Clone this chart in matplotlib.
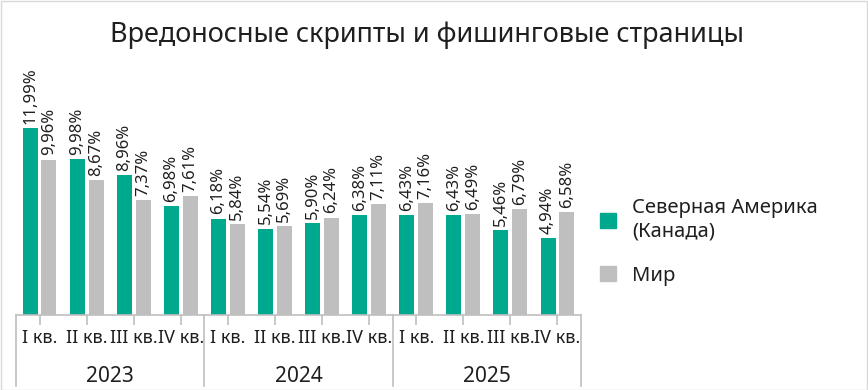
import matplotlib.pyplot as plt
from matplotlib.patches import Rectangle, Patch
import numpy as np

plt.rcParams['font.family'] = ['Noto Sans', 'DejaVu Sans']

# Data
quarters = ['I кв.', 'II кв.', 'III кв.', 'IV кв.'] * 3
years = ['2023', '2024', '2025']
canada = [11.99, 9.98, 8.96, 6.98, 6.18, 5.54, 5.90, 6.38, 6.43, 6.43, 5.46, 4.94]
world = [9.96, 8.67, 7.37, 7.61, 5.84, 5.69, 6.24, 7.11, 7.16, 6.49, 6.79, 6.58]
series_names = ['Северная Америка\n(Канада)', 'Мир']

green = '#00A88E'
grey = '#BFBFBF'
text_col = '#1F1F1F'
axis_col = '#BFBFBF'

W, H = 868, 390
fig = plt.figure(figsize=(W / 100, H / 100), dpi=100)
fig.patches.append(Rectangle((0.001, 0.001), 0.998, 0.997, transform=fig.transFigure,
                             fill=False, edgecolor='#D9D9D9', linewidth=1))

ax = fig.add_axes([16 / W, 1 - 315 / H, 565 / W, 240 / H])
x = np.arange(len(canada))
bw = 0.32
off = 0.2
b1 = ax.bar(x - off, canada, bw, color=green, label=series_names[0])
b2 = ax.bar(x + off, world, bw, color=grey, label=series_names[1])

for bars, vals in ((b1, canada), (b2, world)):
    for rect, v in zip(bars, vals):
        ax.annotate(f'{v:.2f}%'.replace('.', ','),
                    xy=(rect.get_x() + rect.get_width() / 2, rect.get_height()),
                    xytext=(0, 3), textcoords='offset points',
                    rotation=90, ha='center', va='bottom',
                    fontsize=12, color=text_col)

ax.set_xlim(-0.5, len(canada) - 0.5)
ax.set_ylim(0, 240 / 15.6)
ax.set_yticks([])
for s in ('top', 'right', 'left'):
    ax.spines[s].set_visible(False)
ax.spines['bottom'].set_color(axis_col)
ax.spines['bottom'].set_linewidth(1.2)

ax.set_xticks(x)
ax.set_xticklabels(quarters, fontsize=13, color=text_col)
ax.tick_params(axis='x', length=7, width=1.2, color=axis_col, pad=3)

# year separators and labels
trans = ax.get_xaxis_transform()
for b in [-0.5, 3.5, 7.5, 11.5]:
    ax.plot([b, b], [0, -71 / 240], transform=trans, color=axis_col,
            linewidth=1.2, clip_on=False)
for i, yr in enumerate(years):
    ax.text(4 * i + 1.5, -62 / 240, yr, transform=trans, ha='center', va='center',
            fontsize=15, color=text_col)

fig.text(0.492, 1 - 35 / H, 'Вредоносные скрипты и фишинговые страницы',
         ha='center', va='center', fontsize=19.5, color=text_col)

handles = [Patch(color=green), Patch(color=grey)]
fig.legend(handles, series_names, loc='center left', bbox_to_anchor=(582 / W, 1 - 242 / H),
           frameon=False, fontsize=14.5, labelcolor=text_col, handlelength=0.8,
           handleheight=0.8, handletextpad=0.8, labelspacing=1.2)

fig.savefig('out.png', dpi=100)
